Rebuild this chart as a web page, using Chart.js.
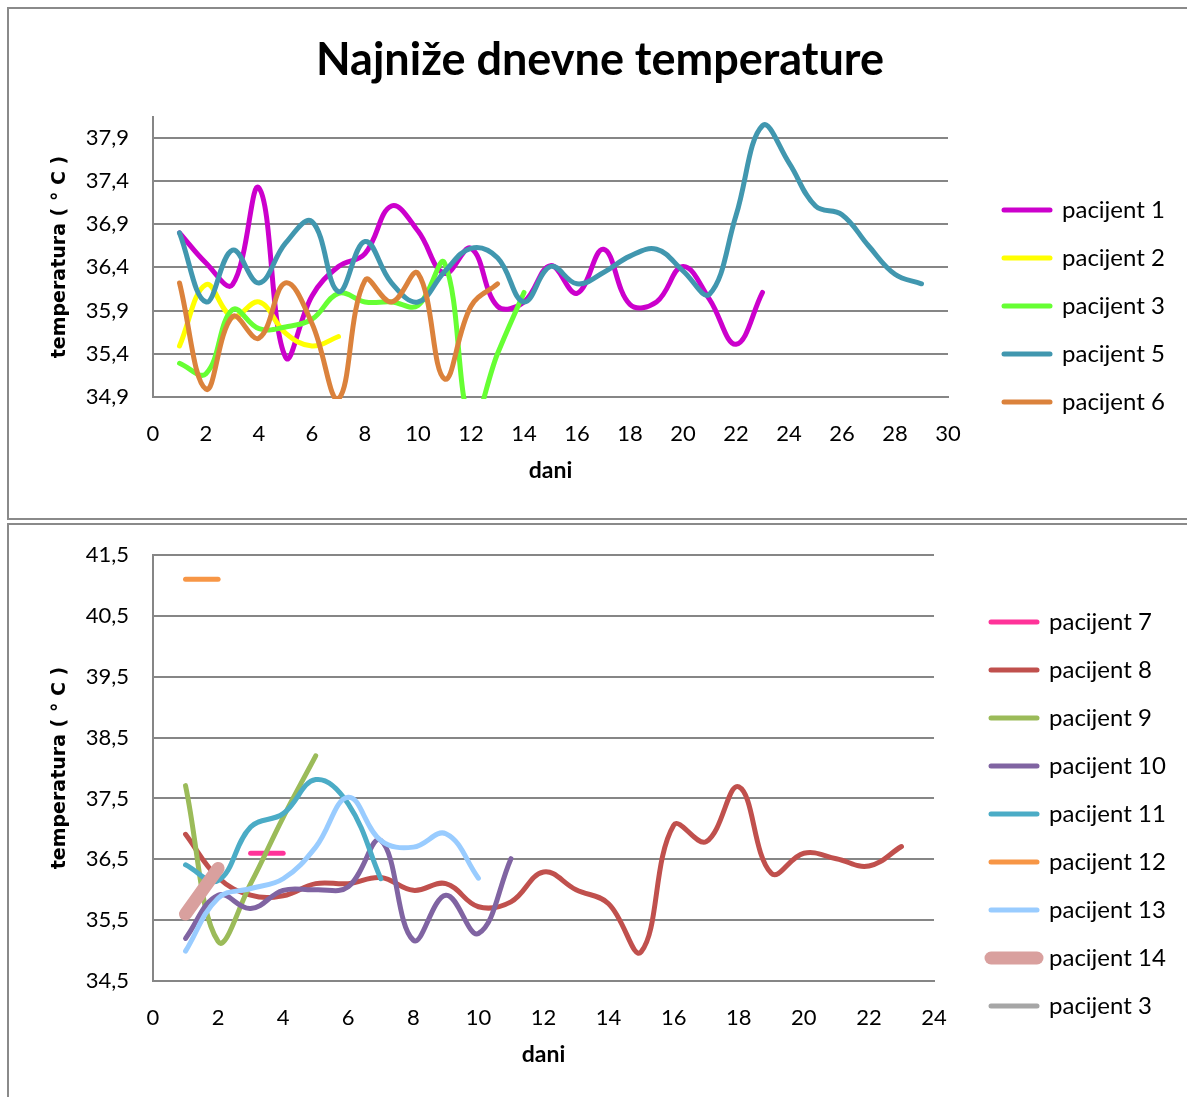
<!DOCTYPE html>
<html>
<head>
<meta charset="utf-8">
<script src="https://cdn.jsdelivr.net/npm/chart.js@4"></script>
<style>
html, body { margin: 0; padding: 0; background: #fff; overflow: hidden; }
body { width: 1187px; height: 1097px; position: relative; }
.box { position: absolute; left: 7px; width: 1200px; border: 2px solid #8a8a8a; box-sizing: border-box; }
#box1 { top: 7px; height: 513px; }
#box2 { top: 523px; height: 600px; }
canvas { position: absolute; left: 0; }
#c1 { top: 0; }
#c2 { top: 524px; }
</style>
</head>
<body>
<div class="box" id="box1"></div>
<div class="box" id="box2"></div>
<canvas id="c1" width="1187" height="520"></canvas>
<canvas id="c2" width="1187" height="573"></canvas>
<script>
const FONT = 'Lato, "Open Sans", sans-serif';
Chart.defaults.font.family = FONT;
Chart.defaults.color = '#000';

// gornji graf - pacijenti 1,2,3,5,6 (dan pocinje od 1)
const p1 = [36.8, 36.45, 36.2, 37.32, 35.36, 36.07, 36.41, 36.56, 37.11, 36.82, 36.33, 36.62, 35.95, 36.0, 36.42, 36.1, 36.61, 35.97, 36.0, 36.41, 36.03, 35.51, 36.11];
const p2 = [35.49, 36.2, 35.83, 36.0, 35.64, 35.49, 35.6];
const p3 = [35.29, 35.17, 35.91, 35.69, 35.71, 35.8, 36.1, 36.0, 36.0, 35.96, 36.45, 34.6, 35.4, 36.11];
const p5 = [36.8, 36.0, 36.6, 36.22, 36.68, 36.93, 36.12, 36.7, 36.22, 36.0, 36.35, 36.62, 36.51, 36.0, 36.41, 36.21, 36.34, 36.53, 36.61, 36.36, 36.09, 37.0, 38.04, 37.61, 37.11, 37.01, 36.65, 36.32, 36.21];
const p6 = [36.22, 34.99, 35.83, 35.58, 36.22, 35.75, 34.88, 36.25, 36.0, 36.33, 35.11, 35.95, 36.21];

// donji graf - pacijenti 7..14 i 3
const p7 = [36.6, 36.6];          // od dana 3
const p8 = [36.91, 36.2, 35.91, 35.9, 36.1, 36.1, 36.2, 35.99, 36.1, 35.72, 35.8, 36.29, 36.0, 35.77, 34.98, 37.06, 36.79, 37.69, 36.27, 36.6, 36.51, 36.39, 36.71];
const p9 = [37.71, 35.15, 36.1, 37.19, 38.2];
const p10 = [35.2, 35.91, 35.69, 35.99, 36.0, 36.05, 36.81, 35.17, 35.91, 35.28, 36.51];
const p11 = [36.41, 36.15, 37.03, 37.25, 37.81, 37.41, 36.18];
const p12 = [41.1, 41.1];
const p13 = [34.99, 35.86, 36.02, 36.18, 36.7, 37.52, 36.81, 36.7, 36.92, 36.19];
const p14 = [35.6, 36.35];
const p3b = [];

const yTicksTop = [34.9, 35.4, 35.9, 36.4, 36.9, 37.4, 37.9];
const yTicksBottom = [34.5, 35.5, 36.5, 37.5, 38.5, 39.5, 40.5, 41.5];

function points(start, vals) {
    return vals.map((v, i) => ({ x: start + i, y: v }));
}

function line(label, color, start, vals, width, order) {
    return {
        label: label,
        data: points(start, vals),
        borderColor: color,
        backgroundColor: color,
        borderWidth: width,
        borderCapStyle: 'round',
        borderJoinStyle: 'round',
        pointRadius: 0,
        pointHoverRadius: 0,
        tension: 0.4,
        fill: false,
        clip: 2,
        order: order
    };
}

function comma(v) {
    return v.toFixed(1).replace('.', ',');
}

// legenda je uza od teksta, pa pustimo crtanje do ruba platna
const legendRoom = {
    id: 'legendRoom',
    beforeDraw(chart) {
        if (chart.legend) chart.legend.right = chart.width;
    }
};

function makeOptions(cfg) {
    return {
        responsive: false,
        animation: false,
        events: [],
        layout: { padding: cfg.padding },
        plugins: {
            title: cfg.title,
            tooltip: { enabled: false },
            legend: {
                position: 'right',
                align: 'start',
                maxWidth: 150,
                title: { display: true, text: ' ', font: { size: 1 }, padding: { top: cfg.legendTop, bottom: 0 } },
                labels: {
                    usePointStyle: true,
                    pointStyle: 'line',
                    pointStyleWidth: 46,
                    padding: 24,
                    color: '#000',
                    font: { family: FONT, size: 24 },
                    sort: (a, b) => a.datasetIndex - b.datasetIndex,
                    generateLabels: chart => Chart.defaults.plugins.legend.labels.generateLabels(chart)
                        .map(l => ({ ...l, lineCap: 'round' }))
                }
            }
        },
        scales: {
            x: {
                type: 'linear',
                min: 0,
                max: cfg.xMax,
                grid: { display: false, drawTicks: false },
                border: { display: true, color: '#868686', width: 2 },
                ticks: { stepSize: 2, padding: 24, font: { size: 22 }, color: '#000' },
                title: { display: true, text: 'dani', font: { size: 23, weight: 'bold', lineHeight: 1 }, color: '#000', padding: 0 },
                afterFit: s => { s.height = 85; }
            },
            y: {
                min: cfg.yMin,
                max: cfg.yMax,
                afterBuildTicks: s => { s.ticks = cfg.yTicks.map(v => ({ value: v })); },
                grid: { color: '#868686', lineWidth: 2, drawTicks: false },
                border: { display: true, color: '#868686', width: 2 },
                ticks: { padding: 24, font: { size: 22 }, color: '#000', callback: v => comma(v) },
                title: {
                    display: true,
                    text: 'temperatura ( ° C )',
                    font: { family: '"DejaVu Sans"', size: 19, weight: 'bold', lineHeight: 1 },
                    color: '#000',
                    padding: { top: cfg.yTitlePad, bottom: 0 }
                },
                afterFit: s => { s.width = cfg.yWidth; s.paddingTop = 0; s.paddingBottom = 0; }
            },
            yr: {
                type: 'linear',
                position: 'right',
                grid: { display: false, drawTicks: false },
                border: { display: false },
                ticks: { display: false },
                afterFit: s => { s.width = cfg.rightGap; s.paddingTop = 0; s.paddingBottom = 0; }
            }
        }
    };
}

new Chart(document.getElementById('c1'), {
    type: 'line',
    data: {
        datasets: [
            line('pacijent 1', '#CC00CC', 1, p1, 5, 5),
            line('pacijent 2', '#FFFF00', 1, p2, 5, 4),
            line('pacijent 3', '#66FF33', 1, p3, 5, 3),
            line('pacijent 5', '#4197AF', 1, p5, 5, 2),
            line('pacijent 6', '#DB823C', 1, p6, 5, 1)
        ]
    },
    options: makeOptions({
        padding: { left: 70, right: 57, top: 0, bottom: 38 },
        title: {
            display: true,
            text: 'Najniže dnevne temperature',
            font: { family: FONT, size: 45, weight: 'bold', lineHeight: 1 },
            color: '#000',
            padding: { top: 38, bottom: 34 }
        },
        legendTop: 172.8,
        xMax: 30,
        yMin: 34.9,
        yMax: 38.14,
        yTicks: yTicksTop,
        yWidth: 83,
        yTitlePad: -19.5,
        rightGap: 32
    }),
    plugins: [legendRoom]
});

new Chart(document.getElementById('c2'), {
    type: 'line',
    data: {
        datasets: [
            line('pacijent 7', '#FF3399', 3, p7, 5, 9),
            line('pacijent 8', '#C0504D', 1, p8, 5, 8),
            line('pacijent 9', '#9BBB59', 1, p9, 5, 7),
            line('pacijent 10', '#8064A2', 1, p10, 5, 6),
            line('pacijent 11', '#4BACC6', 1, p11, 5, 5),
            line('pacijent 12', '#F79646', 1, p12, 5, 4),
            line('pacijent 13', '#99CCFF', 1, p13, 5, 3),
            line('pacijent 14', '#D9A09E', 1, p14, 13, 2),
            line('pacijent 3', '#A6A6A6', 1, p3b, 5, 1)
        ]
    },
    options: makeOptions({
        padding: { left: 51, right: 70, top: 31, bottom: 31 },
        title: { display: false },
        legendTop: 29.8,
        xMax: 24,
        yMin: 34.5,
        yMax: 41.5,
        yTicks: yTicksBottom,
        yWidth: 102,
        yTitlePad: 0,
        rightGap: 33
    }),
    plugins: [legendRoom]
});
</script>
</body>
</html>
